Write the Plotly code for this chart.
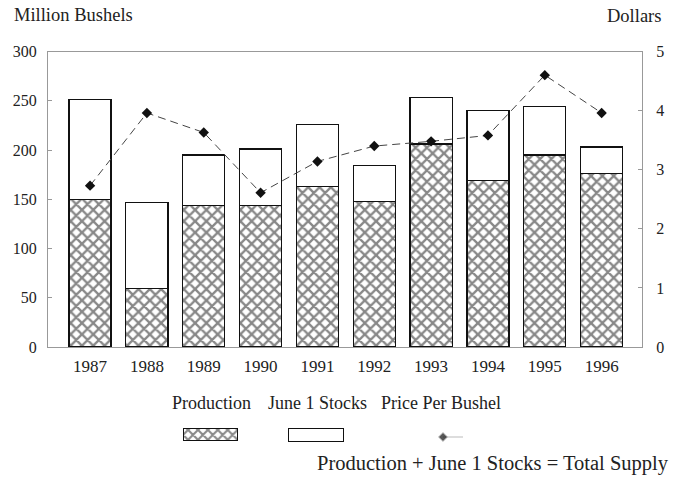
import plotly.graph_objects as go

years = ["1987", "1988", "1989", "1990", "1991", "1992", "1993", "1994", "1995", "1996"]
production = [150, 59, 144, 144, 163, 148, 206, 169, 195, 176]
total_supply = [251, 147, 195, 201, 226, 184, 253, 240, 244, 203]
june_stocks = [t - p for t, p in zip(total_supply, production)]
price = [2.73, 3.96, 3.63, 2.61, 3.14, 3.40, 3.48, 3.58, 4.60, 3.96]

left_ticks = [0, 50, 100, 150, 200, 250, 300]
right_ticks = [0, 1, 2, 3, 4, 5]

W, H = 683, 477
FONT = "Liberation Serif"
TXT = "#222222"

def px(x):
    return x / W

def py(y):
    return 1 - y / H

fig = go.Figure()

fig.add_trace(go.Bar(
    x=years, y=production, name="Production", width=0.74,
    marker=dict(color="white", line=dict(color="#111", width=1.2),
                pattern=dict(shape="x", fgcolor="#111", bgcolor="white", size=8, solidity=0.5)),
    showlegend=False,
))
fig.add_trace(go.Bar(
    x=years, y=june_stocks, name="June 1 Stocks", width=0.74,
    marker=dict(color="white", line=dict(color="#111", width=1.2)),
    showlegend=False,
))
fig.add_trace(go.Scatter(
    x=years, y=price, name="Price Per Bushel", yaxis="y2",
    mode="lines+markers",
    line=dict(color="#444", width=1, dash="8px,5px"),
    marker=dict(symbol="diamond", size=8, color="#111"),
    showlegend=False,
))

# legend swatches (decorative key) on a helper axis in pixel units
fig.add_trace(go.Bar(
    xaxis="x3", yaxis="y3", orientation="h",
    y=[434], x=[54], base=[183], width=[12],
    marker=dict(color="white", line=dict(color="#111", width=1),
                pattern=dict(shape="x", fgcolor="#111", bgcolor="white", size=7, solidity=0.5)),
    showlegend=False, hoverinfo="skip",
))
fig.add_trace(go.Bar(
    xaxis="x3", yaxis="y3", orientation="h",
    y=[434.5], x=[55], base=[288], width=[13],
    marker=dict(color="white", line=dict(color="#111", width=1)),
    showlegend=False, hoverinfo="skip",
))
fig.add_trace(go.Scatter(
    xaxis="x3", yaxis="y3",
    x=[443, 463], y=[437, 437], mode="lines+markers",
    line=dict(color="#bbb", width=1),
    marker=dict(symbol="diamond", size=[7, 0], color="#111"),
    showlegend=False, hoverinfo="skip",
))

fig.update_layout(
    width=W, height=H,
    margin=dict(l=0, r=0, t=0, b=0, autoexpand=False),
    paper_bgcolor="white", plot_bgcolor="white",
    barmode="stack",
    font=dict(family=FONT, size=16, color=TXT),
    xaxis=dict(
        domain=[px(48), px(642)], anchor="y",
        type="category", range=[-0.74, 9.71],
        showline=True, linecolor="#999", linewidth=1, mirror=True,
        ticks="", showgrid=False, zeroline=False,
        tickfont=dict(family=FONT, size=17, color=TXT),
        ticklabelstandoff=4,
    ),
    yaxis=dict(
        domain=[py(347), py(51.5)], anchor="x",
        range=[0, 300], tickvals=left_ticks,
        showline=True, linecolor="#999", linewidth=1,
        ticks="inside", ticklen=4, tickcolor="#999",
        showgrid=False, zeroline=False,
        tickfont=dict(family=FONT, size=16, color=TXT),
        ticklabelstandoff=7,
    ),
    yaxis2=dict(
        overlaying="y", side="right", anchor="x",
        range=[0, 5], tickvals=right_ticks,
        showline=True, linecolor="#999", linewidth=1,
        ticks="inside", ticklen=4, tickcolor="#999",
        showgrid=False, zeroline=False,
        tickfont=dict(family=FONT, size=16, color=TXT),
        ticklabelstandoff=10,
    ),
    xaxis3=dict(domain=[0, 1], range=[0, W], anchor="y3", visible=False, fixedrange=True),
    yaxis3=dict(domain=[py(450), py(420)], range=[450, 420], anchor="x3", visible=False, fixedrange=True),
    annotations=[
        dict(text="Million Bushels", x=px(12), y=py(15), xref="paper", yref="paper",
             xanchor="left", yanchor="middle", showarrow=False,
             font=dict(family=FONT, size=18.5, color=TXT)),
        dict(text="Dollars", x=px(663), y=py(16), xref="paper", yref="paper",
             xanchor="right", yanchor="middle", showarrow=False,
             font=dict(family=FONT, size=18.5, color=TXT)),
        dict(text="Production", x=px(170), y=py(403), xref="paper", yref="paper",
             xanchor="left", yanchor="middle", showarrow=False,
             font=dict(family=FONT, size=18, color=TXT)),
        dict(text="June 1 Stocks", x=px(266), y=py(403), xref="paper", yref="paper",
             xanchor="left", yanchor="middle", showarrow=False,
             font=dict(family=FONT, size=18, color=TXT)),
        dict(text="Price Per Bushel", x=px(379), y=py(403), xref="paper", yref="paper",
             xanchor="left", yanchor="middle", showarrow=False,
             font=dict(family=FONT, size=18, color=TXT)),
        dict(text="Production + June 1 Stocks = Total Supply",
             x=px(671), y=py(463), xref="paper", yref="paper",
             xanchor="right", yanchor="middle", showarrow=False,
             font=dict(family=FONT, size=20.5, color=TXT)),
    ],
)

fig.write_html(
    "out.html",
    config={"displayModeBar": False},
    post_script="document.body.style.margin='0px';document.body.style.overflow='hidden';",
)
